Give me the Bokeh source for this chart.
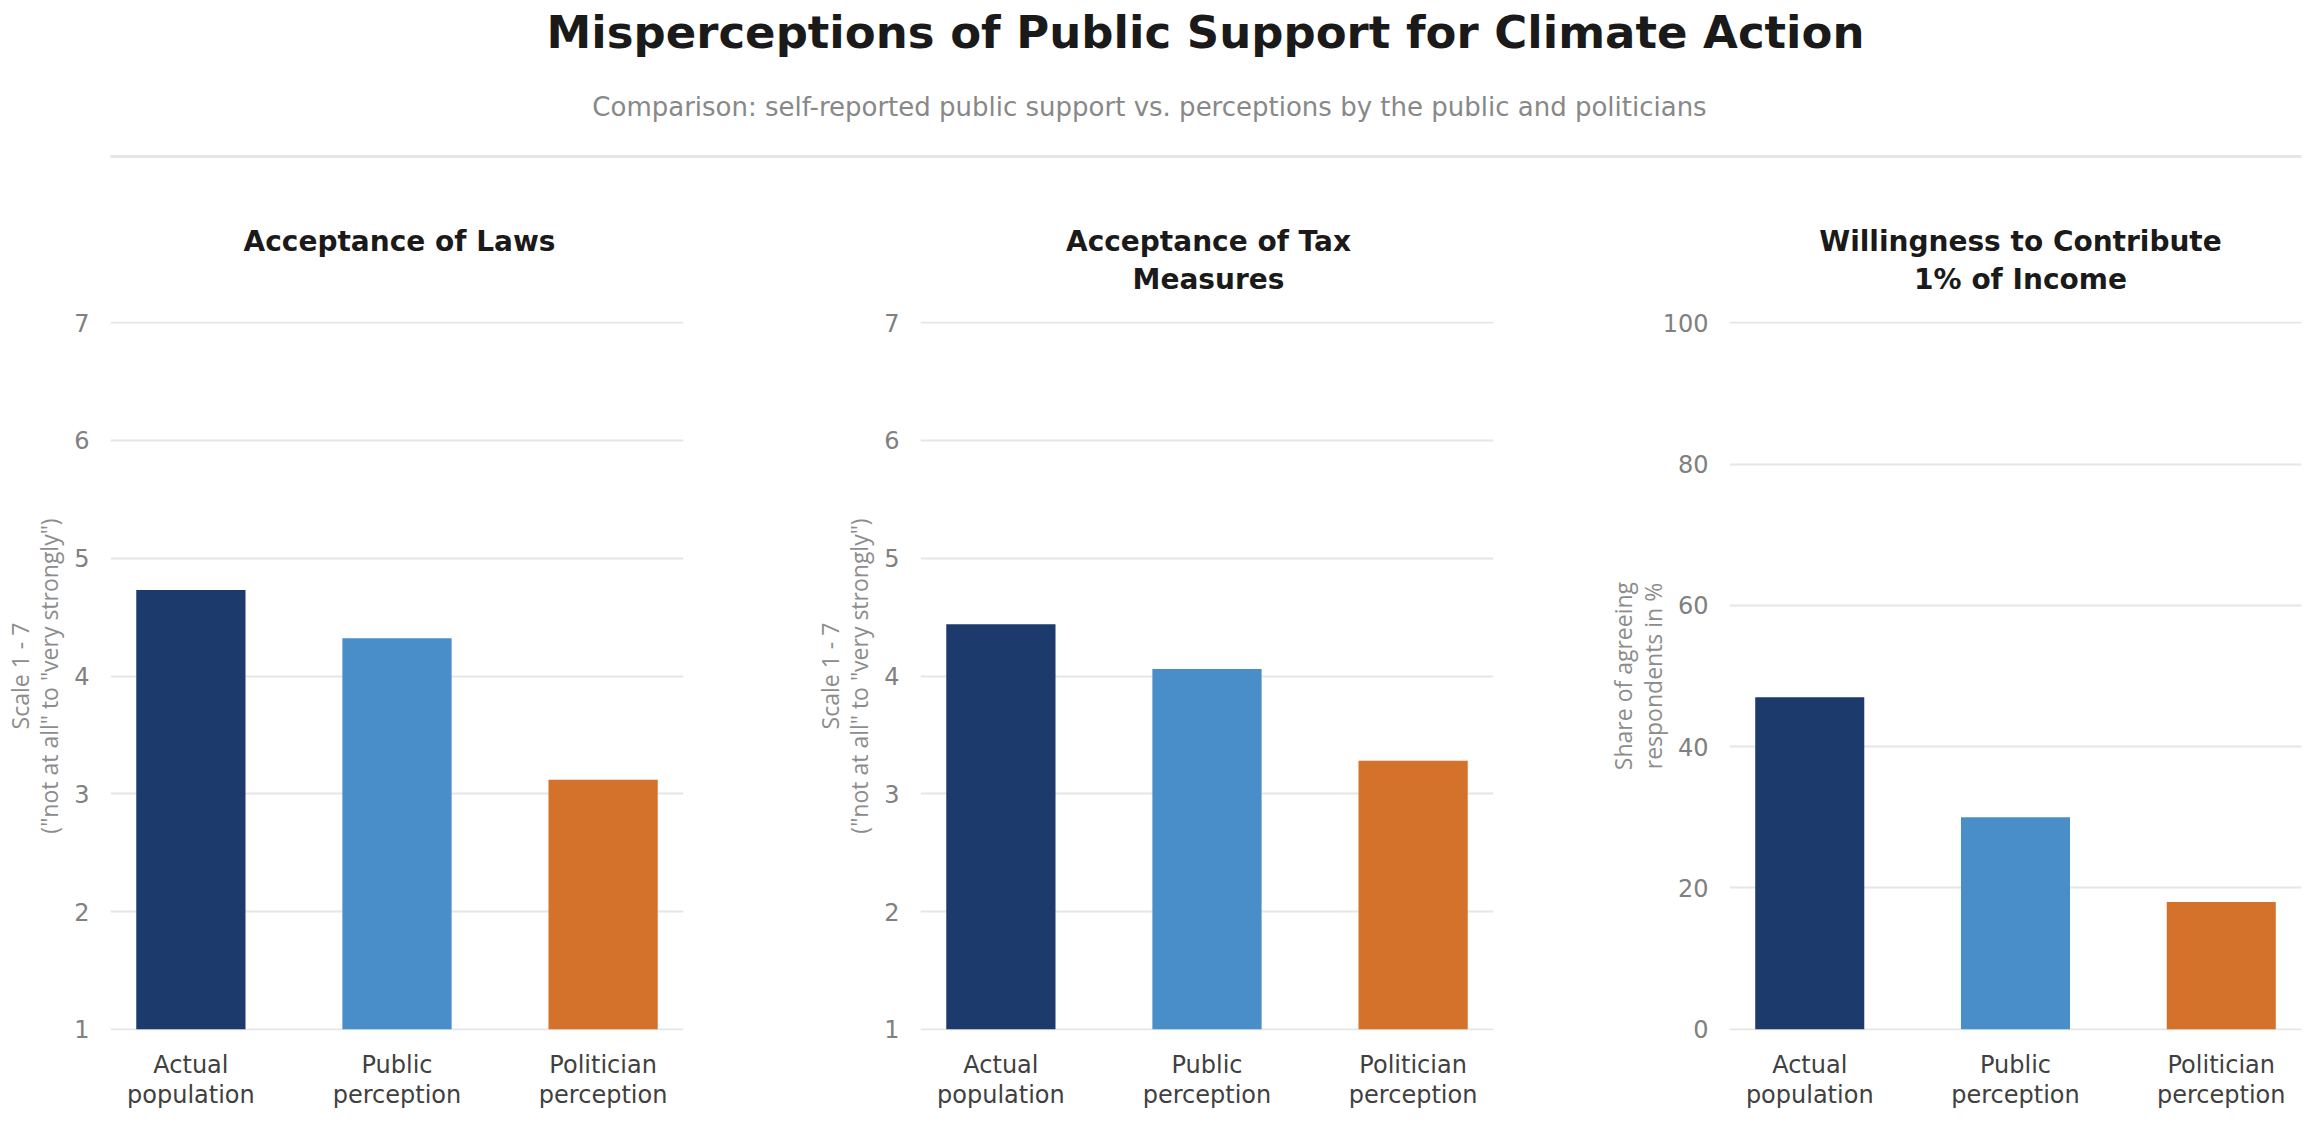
from bokeh.plotting import figure
from bokeh.layouts import column, row
from bokeh.models import Range1d, FixedTicker, ColumnDataSource
from bokeh.core.properties import value
from bokeh.embed import file_html
from bokeh.resources import INLINE

# ---- data ----
main_title = "Misperceptions of Public Support for Climate Action"
subtitle = "Comparison: self-reported public support vs. perceptions by the public and politicians"
groups = ["Actual\npopulation", "Public\nperception", "Politician\nperception"]
bar_colors = ["#1c3a6b", "#4a8ec9", "#d4722b"]
panel_titles = [["Acceptance of Laws"],
                ["Acceptance of Tax", "Measures"],
                ["Willingness to Contribute", "1% of Income"]]
laws = [4.73, 4.32, 3.12]
tax = [4.44, 4.06, 3.28]
income = [47, 30, 18]
scale_ticks = [1, 2, 3, 4, 5, 6, 7]
pct_ticks = [0, 20, 40, 60, 80, 100]
ylabel_scale = 'Scale 1 - 7\n("not at all" to "very strongly")'
ylabel_pct = "Share of agreeing\nrespondents in %"

FONT = "DejaVu Sans"
W, H = 2310, 1132
HEADER_H = 295

# ---- header (title, subtitle, separator, panel titles) ----
hdr = figure(width=W, height=HEADER_H, x_range=Range1d(0, W), y_range=Range1d(HEADER_H, 0),
             output_backend="svg", toolbar_location=None, min_border=0)
hdr.axis.visible = False
hdr.grid.visible = False
hdr.outline_line_color = None
hdr.background_fill_color = "white"
hdr.border_fill_color = "white"

hdr.text(x=[1205], y=[32], text=[main_title], text_font=value(FONT), text_font_style="bold",
         text_font_size="45px", text_color="#1a1a1a", text_align="center", text_baseline="middle")
hdr.text(x=[1149], y=[106], text=[subtitle], text_font=value(FONT),
         text_font_size="26px", text_color="#888888", text_align="center", text_baseline="middle")
hdr.segment(x0=[110], x1=[2301], y0=[156], y1=[156], line_color="#e6e6e6", line_width=3)

centers = [399, 1208, 2020]
tx, ty, tt = [], [], []
for cx, lines in zip(centers, panel_titles):
    for i, ln in enumerate(lines):
        tx.append(cx)
        ty.append(241 + 38 * i)
        tt.append(ln)
hdr.text(x=tx, y=ty, text=tt, text_font=value(FONT), text_font_style="bold",
         text_font_size="28px", text_color="#1a1a1a", text_align="center", text_baseline="middle")

# ---- panels ----
def panel(vals, ticks, yr, ylabel, width, left, right, label_standoff, base):
    p = figure(width=width, height=H - HEADER_H, x_range=Range1d(-0.39, 2.39), y_range=yr,
               output_backend="svg", toolbar_location=None,
               min_border_left=left, min_border_right=right, min_border_top=26, min_border_bottom=102)
    src = ColumnDataSource(dict(x=list(range(len(groups))), top=vals, color=bar_colors))
    p.vbar(x="x", top="top", bottom=base, width=0.53, color="color", source=src, line_color=None)
    p.outline_line_color = None
    p.background_fill_color = "white"
    p.border_fill_color = "white"
    p.xgrid.grid_line_color = None
    p.ygrid.grid_line_color = "#e6e6e6"
    p.ygrid.grid_line_width = 2
    p.ygrid.ticker = FixedTicker(ticks=ticks)

    ya = p.yaxis[0]
    ya.ticker = FixedTicker(ticks=ticks)
    ya.axis_line_color = None
    ya.major_tick_line_color = None
    ya.minor_tick_line_color = None
    ya.major_tick_out = 0
    ya.major_label_standoff = 21
    ya.major_label_text_font = FONT
    ya.major_label_text_font_size = "24px"
    ya.major_label_text_color = "#808080"
    ya.axis_label = ylabel
    ya.axis_label_text_font = "Open Sans"
    ya.axis_label_text_font_style = "normal"
    ya.axis_label_text_font_size = "23px"
    ya.axis_label_text_line_height = 0.92
    ya.axis_label_text_color = "#8c8c8c"
    ya.axis_label_standoff = label_standoff

    xa = p.xaxis[0]
    xa.ticker = FixedTicker(ticks=list(range(len(groups))))
    xa.major_label_overrides = {i: g for i, g in enumerate(groups)}
    xa.axis_line_color = None
    xa.major_tick_line_color = None
    xa.minor_tick_line_color = None
    xa.major_tick_out = 0
    xa.major_label_standoff = 20
    xa.major_label_text_font = FONT
    xa.major_label_text_font_size = "24px"
    xa.major_label_text_line_height = 1.1
    xa.major_label_text_color = "#404040"
    return p

p1 = panel(laws, scale_ticks, Range1d(0.99, 7.01), ylabel_scale, 736, 110, 53, 6, 1)
p2 = panel(tax, scale_ticks, Range1d(0.99, 7.01), ylabel_scale, 810, 184, 53, 6, 1)
p3 = panel(income, pct_ticks, Range1d(-0.17, 100.17), ylabel_pct, 764, 183, 9, -9, 0)

layout = column(hdr, row(p1, p2, p3, spacing=0), spacing=0)

open("out.html", "w").write(file_html(layout, INLINE, title="Misperceptions of Public Support for Climate Action"))
